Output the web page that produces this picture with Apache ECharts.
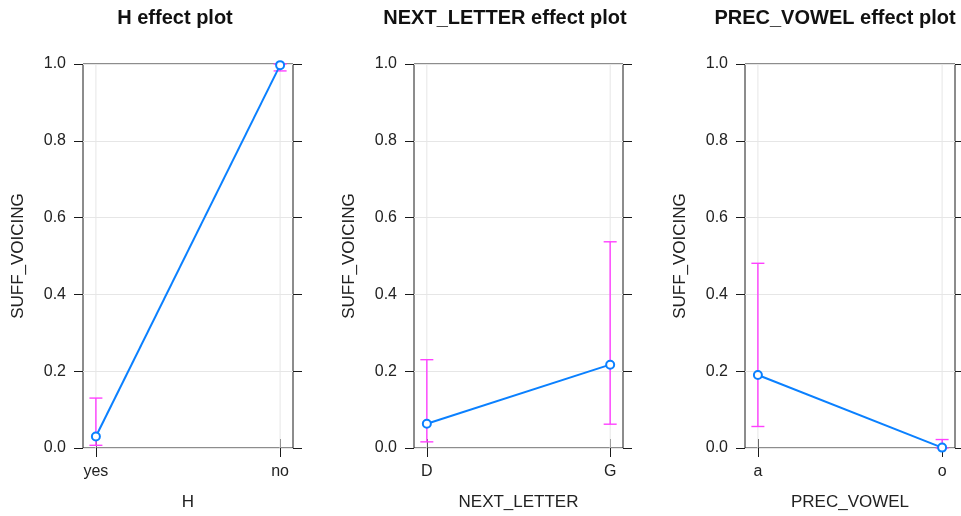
<!DOCTYPE html>
<html>
<head>
<meta charset="utf-8">
<script src="https://cdn.jsdelivr.net/npm/echarts@6/dist/echarts.min.js"></script>
<style>
  html, body { margin: 0; padding: 0; background: #fff; overflow: hidden; }
  #chart { width: 961px; height: 516px; }
</style>
</head>
<body>
<div id="chart"></div>
<script>
// effect plot data (fit + confidence band)
const hCats = ['yes', 'no'];
const hFit = [0.030, 0.997];
const hLower = [0.007, 0.982];
const hUpper = [0.130, 1.000];

const nextCats = ['D', 'G'];
const nextFit = [0.063, 0.217];
const nextLower = [0.016, 0.062];
const nextUpper = [0.230, 0.537];

const precCats = ['a', 'o'];
const precFit = [0.190, 0.001];
const precLower = [0.056, 0.000];
const precUpper = [0.481, 0.022];

const panels = [
  { title: 'H effect plot', xName: 'H', cats: hCats, fit: hFit, lower: hLower, upper: hUpper, left: 83, width: 210, titleX: 170 },
  { title: 'NEXT_LETTER effect plot', xName: 'NEXT_LETTER', cats: nextCats, fit: nextFit, lower: nextLower, upper: nextUpper, left: 414, width: 209, titleX: 500 },
  { title: 'PREC_VOWEL effect plot', xName: 'PREC_VOWEL', cats: precCats, fit: precFit, lower: precLower, upper: precUpper, left: 745, width: 210, titleX: 830 }
];

const FONT = 'Liberation Sans, Arial, Helvetica, sans-serif';
const AXIS_COLOR = '#1a1a1a';
const TEXT_COLOR = '#222';
const LINE_BLUE = '#0a80ff';
const CI_PINK = '#ff40ff';
const GRID_COLOR = '#e6e6e6';

const chart = echarts.init(document.getElementById('chart'), null, { renderer: 'canvas' });

const title = [], grid = [], xAxis = [], yAxis = [], series = [];

panels.forEach((p, i) => {
  const pos = p.cats.map((c, k) => k + 1);

  title.push({
    text: p.title,
    left: p.titleX,
    top: 3,
    textAlign: 'center',
    textStyle: { fontFamily: FONT, fontSize: 20, fontWeight: 'bold', color: '#111' }
  });

  grid.push({
    left: p.left, width: p.width, top: 64, height: 387,
    show: true, borderColor: AXIS_COLOR, borderWidth: 1, backgroundColor: 'transparent'
  });

  // bottom x axis (labels + name)
  xAxis.push({
    gridIndex: i, type: 'value', position: 'bottom',
    min: 0.93, max: 2.07,
    name: p.xName, nameLocation: 'middle', nameGap: 46,
    nameTextStyle: { fontFamily: FONT, fontSize: 17, color: TEXT_COLOR },
    axisLine: { show: false },
    axisTick: { show: true, inside: false, length: 9, customValues: pos, lineStyle: { color: AXIS_COLOR } },
    axisLabel: {
      show: true, customValues: pos, margin: 16,
      fontFamily: FONT, fontSize: 16, color: TEXT_COLOR,
      formatter: v => p.cats[Math.round(v) - 1] || ''
    },
    splitLine: { show: false }
  });
  // top x axis (ticks only)
  xAxis.push({
    gridIndex: i, type: 'value', position: 'top',
    min: 0.93, max: 2.07,
    axisLine: { show: false },
    axisTick: { show: true, inside: false, length: 9, customValues: pos, lineStyle: { color: AXIS_COLOR } },
    axisLabel: { show: false },
    splitLine: { show: false }
  });

  yAxis.push({
    gridIndex: i, type: 'value', position: 'left',
    min: 0, max: 1, interval: 0.2,
    name: 'SUFF_VOICING', nameLocation: 'middle', nameGap: 56,
    nameTextStyle: { fontFamily: FONT, fontSize: 17, color: TEXT_COLOR },
    axisLine: { show: false },
    axisTick: { show: true, inside: false, length: 9, lineStyle: { color: AXIS_COLOR } },
    axisLabel: {
      margin: 17, fontFamily: FONT, fontSize: 16, color: TEXT_COLOR,
      formatter: v => v.toFixed(1)
    },
    splitLine: { show: true, lineStyle: { color: GRID_COLOR, width: 1 } }
  });
  yAxis.push({
    gridIndex: i, type: 'value', position: 'right',
    min: 0, max: 1, interval: 0.2,
    axisLine: { show: false },
    axisTick: { show: true, inside: false, length: 9, lineStyle: { color: AXIS_COLOR } },
    axisLabel: { show: false },
    splitLine: { show: false }
  });

  // vertical reference line + confidence interval bar per level
  series.push({
    type: 'custom',
    xAxisIndex: i * 2, yAxisIndex: i * 2,
    z: 2,
    data: pos.map((x, k) => [x, p.lower[k], p.upper[k]]),
    renderItem: (params, api) => {
      const x = api.value(0);
      const lo = api.coord([x, api.value(1)]);
      const hi = api.coord([x, api.value(2)]);
      const bottom = api.coord([x, 0]);
      const top = api.coord([x, 1]);
      const cap = 6.5;
      const style = { stroke: CI_PINK, lineWidth: 1.4 };
      return {
        type: 'group',
        children: [
          { type: 'line', shape: { x1: bottom[0], y1: bottom[1], x2: top[0], y2: top[1] }, style: { stroke: GRID_COLOR, lineWidth: 1 } },
          { type: 'line', shape: { x1: lo[0], y1: lo[1], x2: hi[0], y2: hi[1] }, style },
          { type: 'line', shape: { x1: lo[0] - cap, y1: lo[1], x2: lo[0] + cap, y2: lo[1] }, style },
          { type: 'line', shape: { x1: hi[0] - cap, y1: hi[1], x2: hi[0] + cap, y2: hi[1] }, style }
        ]
      };
    }
  });

  // fitted effect line
  series.push({
    type: 'line',
    xAxisIndex: i * 2, yAxisIndex: i * 2,
    z: 3,
    data: pos.map((x, k) => [x, p.fit[k]]),
    symbol: 'circle', symbolSize: 8,
    showAllSymbol: true,
    lineStyle: { color: LINE_BLUE, width: 2 },
    itemStyle: { color: '#fff', borderColor: LINE_BLUE, borderWidth: 2 },
    clip: false
  });
});

chart.setOption({
  animation: false,
  backgroundColor: '#fff',
  title, grid, xAxis, yAxis, series
});
</script>
</body>
</html>
